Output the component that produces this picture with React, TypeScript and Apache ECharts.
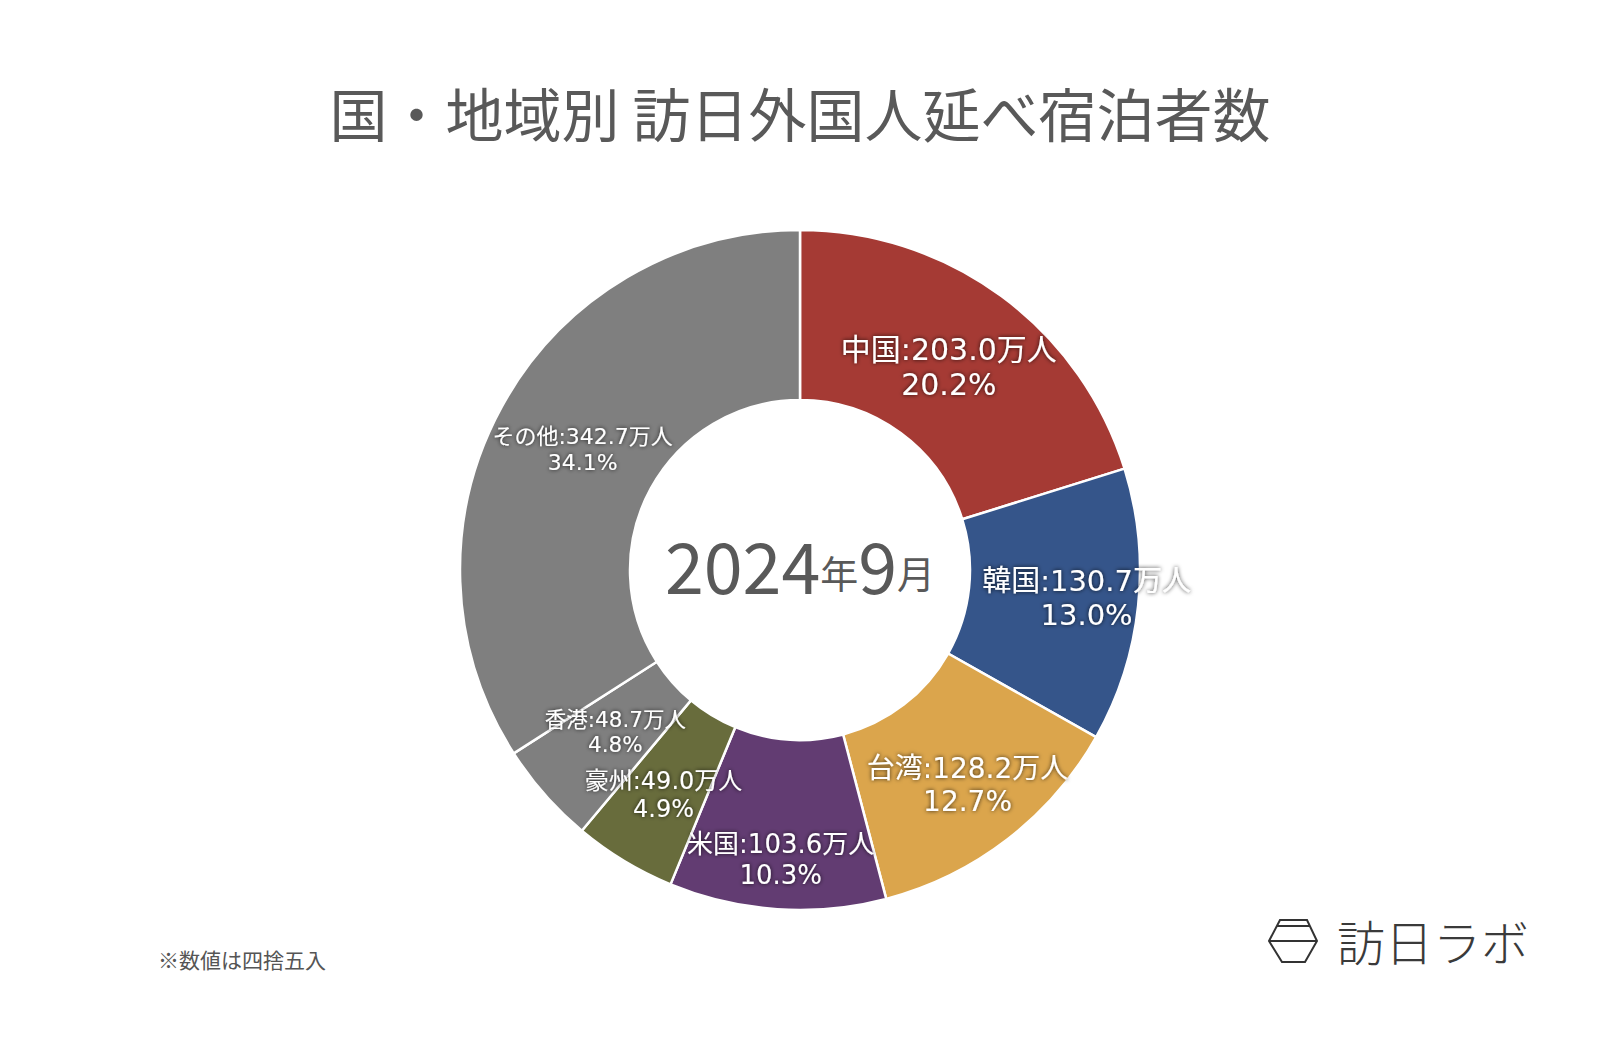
import React, { useEffect, useRef } from "react";
import * as echarts from "echarts";

const TITLE = "国・地域別 訪日外国人延べ宿泊者数";
const CENTER_YEAR = "2024";
const CENTER_MONTH = "9";
const NOTE = "※数値は四捨五入";
const LOGO = "訪日ラボ";

const categories = ["中国", "韓国", "台湾", "米国", "豪州", "香港", "その他"];
const values = [203.0, 130.7, 128.2, 103.6, 49.0, 48.7, 342.7];

const COLORS = ["#a53a34", "#35558a", "#dba54c", "#623c72", "#686c3c", "#7f7f7f", "#7f7f7f"];
const LABEL_SIZES = [30, 29, 28, 26, 24, 21.5, 22];
const LABEL_OFFSETS: [number, number][] = [
  [-4, 5],
  [30, 1],
  [10, 11],
  [-2, 32],
  [-3, 4],
  [9, -8],
  [9, 3],
];

const FONT = '"Noto Sans CJK JP", "Noto Sans", sans-serif';
const LABEL_FONT = '"DejaVu Sans", "Noto Sans CJK JP", sans-serif';

export default function App() {
  const ref = useRef<HTMLDivElement>(null);

  useEffect(() => {
    if (!ref.current) return;
    const chart = echarts.init(ref.current, undefined, { renderer: "svg" });
    const total = values.reduce((a, b) => a + b, 0);

    const data = categories.map((name, i) => ({
      name,
      value: values[i],
      itemStyle: { color: COLORS[i] },
      label: {
        fontSize: LABEL_SIZES[i],
        lineHeight: Math.round(LABEL_SIZES[i] * 1.18),
        offset: LABEL_OFFSETS[i],
      },
    }));

    chart.setOption({
      animation: false,
      backgroundColor: "#ffffff",
      textStyle: { fontFamily: FONT },
      series: [
        {
          type: "pie",
          center: [800, 570],
          radius: [170, 340],
          startAngle: 90,
          clockwise: true,
          avoidLabelOverlap: false,
          itemStyle: { borderColor: "#ffffff", borderWidth: 2.5 },
          label: {
            show: true,
            position: "inside",
            color: "#ffffff",
            fontFamily: LABEL_FONT,
            align: "center",
            textShadowColor: "rgba(0,0,0,0.8)",
            textShadowBlur: 4,
            formatter: (p: any) =>
              `${p.name}:${Number(p.value).toFixed(1)}万人\n${((Number(p.value) / total) * 100).toFixed(1)}%`,
          },
          labelLine: { show: false },
          emphasis: { disabled: true },
          data,
        },
      ],
      graphic: [
        {
          type: "text",
          left: "center",
          top: 83,
          style: {
            text: TITLE,
            fontSize: 58,
            fontFamily: FONT,
            fill: "#595959",
          },
        },
        {
          type: "text",
          x: 800,
          y: 558,
          style: {
            text: `{n|${CENTER_YEAR}}{u|年}{n|${CENTER_MONTH}}{u|月}`,
            align: "center",
            verticalAlign: "middle",
            fontFamily: FONT,
            fill: "#595959",
            rich: {
              n: { fontSize: 70, fontFamily: FONT, fill: "#595959", lineHeight: 80, verticalAlign: "bottom" },
              u: { fontSize: 38, fontFamily: FONT, fill: "#595959", lineHeight: 80, verticalAlign: "bottom", padding: [0, 0, 8, 0] },
            },
          },
        },
        {
          type: "text",
          x: 158,
          y: 959,
          style: {
            text: NOTE,
            fontSize: 21,
            fontFamily: FONT,
            fill: "#555555",
            verticalAlign: "middle",
          },
        },
        {
          type: "text",
          x: 1337,
          y: 940,
          style: {
            text: LOGO,
            fontSize: 48,
            fontWeight: 300,
            fontFamily: FONT,
            fill: "#3a3a3a",
            verticalAlign: "middle",
          },
        },
        {
          type: "polygon",
          shape: {
            points: [
              [1280, 920],
              [1307, 920],
              [1317, 941],
              [1305, 962],
              [1282, 962],
              [1269, 941],
            ],
          },
          style: { fill: "none", stroke: "#333333", lineWidth: 2 },
        },
        {
          type: "line",
          shape: { x1: 1269, y1: 941, x2: 1317, y2: 941 },
          style: { stroke: "#333333", lineWidth: 2 },
        },
        {
          type: "line",
          shape: { x1: 1277, y1: 926, x2: 1310, y2: 926 },
          style: { stroke: "#333333", lineWidth: 2 },
        },
      ],
    });

    return () => chart.dispose();
  }, []);

  return (
    <div
      ref={ref}
      style={{ position: "fixed", left: 0, top: 0, width: 1600, height: 1048, background: "#fff" }}
    />
  );
}
